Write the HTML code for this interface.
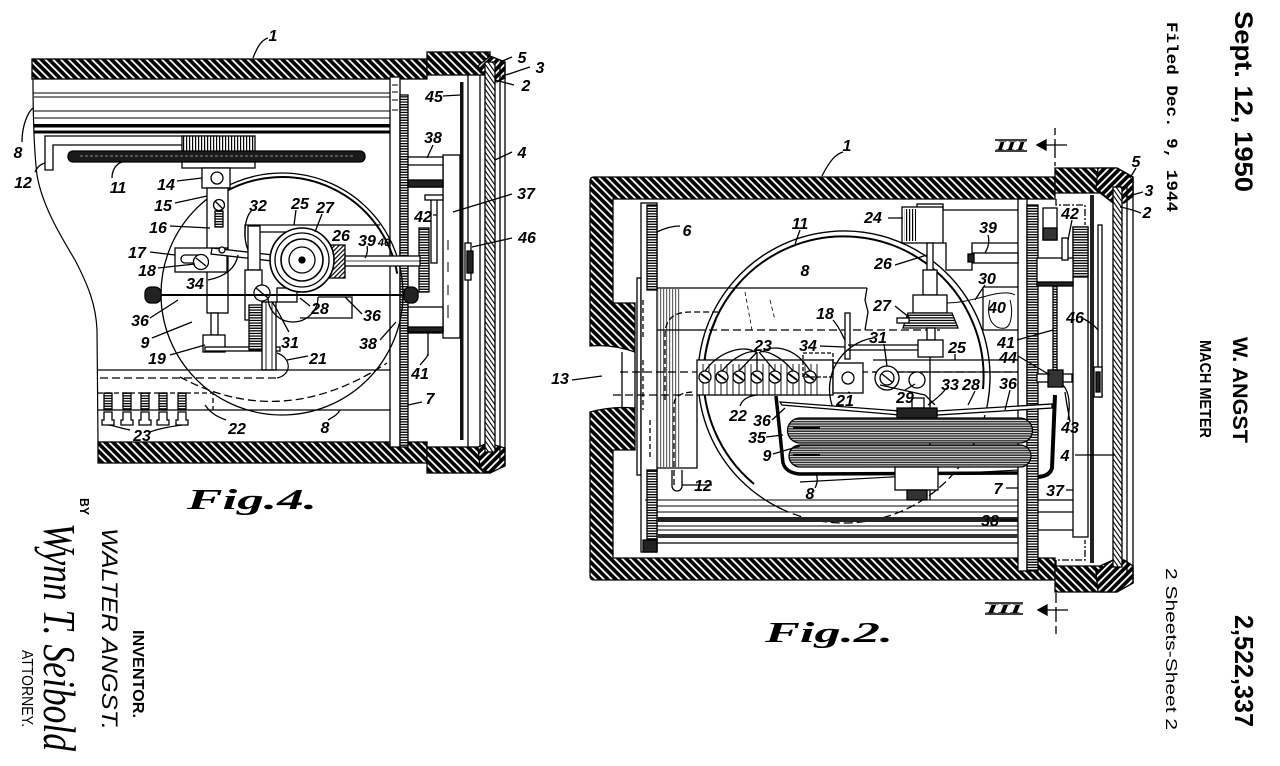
<!DOCTYPE html>
<html><head><meta charset="utf-8">
<style>
html,body{margin:0;padding:0;background:#fff;}
svg{display:block}
.n{font-family:"Liberation Sans",sans-serif;font-style:italic;font-weight:bold;font-size:16px;fill:#000;stroke:none;text-anchor:middle}
.s{font-family:"Liberation Sans",sans-serif;fill:#000;stroke:none}
</style></head><body>
<svg width="1280" height="766" viewBox="0 0 1280 766" xmlns="http://www.w3.org/2000/svg">
<defs>
<pattern id="h" width="5.5" height="5.5" patternUnits="userSpaceOnUse" patternTransform="rotate(-45)">
<rect width="5.5" height="5.5" fill="#000"/><rect width="1.8" height="5.5" fill="#fff"/></pattern>
<pattern id="h2" width="5.5" height="5.5" patternUnits="userSpaceOnUse" patternTransform="rotate(45)">
<rect width="5.5" height="5.5" fill="#000"/><rect width="1.8" height="5.5" fill="#fff"/></pattern>
<pattern id="g" width="3.6" height="3.6" patternUnits="userSpaceOnUse" patternTransform="rotate(-35)">
<rect width="3.6" height="3.6" fill="#fff"/><rect width="1.1" height="3.6" fill="#000"/></pattern>
<pattern id="hl" width="3.2" height="3.2" patternUnits="userSpaceOnUse" patternTransform="rotate(45)">
<rect width="3.2" height="3.2" fill="#fff"/><rect width="1.2" height="3.2" fill="#000"/></pattern>
<pattern id="t" width="4" height="2.6" patternUnits="userSpaceOnUse">
<rect width="4" height="2.6" fill="#fff"/><rect width="4" height="1.3" fill="#000"/></pattern>
<pattern id="tv" width="3" height="4" patternUnits="userSpaceOnUse">
<rect width="3" height="4" fill="#fff"/><rect width="1.2" height="4" fill="#000"/></pattern>
<pattern id="cap" width="6" height="2.4" patternUnits="userSpaceOnUse">
<rect width="6" height="2.4" fill="#333"/><rect width="6" height="0.8" fill="#fff"/></pattern>
</defs>

<g stroke="#000" fill="none" stroke-width="1.3">
<!-- ================= FIG 4 ================= -->
<!-- walls -->
<rect x="32" y="59" width="395" height="20" fill="url(#h)"/>
<rect x="427" y="52" width="63" height="23" fill="url(#h)"/>
<path d="M478,66 L490,56 L505,62 V78 L497,82 L486,77 Z" fill="url(#h2)"/>
<rect x="98" y="442" width="329" height="21" fill="url(#h)"/>
<rect x="427" y="447" width="63" height="26" fill="url(#h)"/>
<path d="M478,447 L488,443 L505,448 V466 L490,473 L480,468 Z" fill="url(#h2)"/>
<!-- glass and frame -->
<rect x="485" y="62" width="10" height="390" fill="url(#g)"/>
<path d="M500,62 V463 M505,62 V466 M468,75 V447 M480,75 V447"/>
<rect x="460" y="82" width="3.5" height="358" fill="#111" stroke="none"/>
<!-- plate 7 -->
<rect x="390" y="77" width="10" height="370" fill="#fff"/>
<rect x="400" y="95" width="8" height="352" fill="url(#t)"/>
<path d="M392,85 H398 M392,92 H398 M392,100 H398 M392,110 H398" stroke-width="1"/>
<!-- box 37 and rods 38 -->
<rect x="443" y="155" width="17" height="183" fill="#fff"/>
<path d="M448,240 V250 M448,262 V272 M448,285 V295 M448,305 V318" stroke-width="1"/>
<rect x="408" y="157" width="35" height="30" fill="#fff"/>
<path d="M408,165 H443"/>
<rect x="408" y="180" width="35" height="7" fill="#222"/>
<rect x="408" y="307" width="35" height="26" fill="#fff"/>
<rect x="408" y="327" width="35" height="5" fill="#222"/>
<rect x="431" y="198" width="6" height="65" fill="#fff"/>
<rect x="425" y="195" width="18" height="5" fill="#fff"/>
<rect x="419" y="228" width="10" height="64" fill="url(#t)"/>
<path d="M428,333 V356"/>
<rect x="465" y="243" width="6" height="37" fill="#fff"/>
<rect x="467" y="251" width="6" height="22" fill="#222"/>
<!-- break line -->
<path d="M33,79 C33,120 34,150 37,175 C42,205 60,235 75,260 C88,285 96,305 97,330 L98,442" stroke-width="1.2"/>
<!-- rod 8 -->
<path d="M33,93 H390 M34,97 H390 M34,111 H390 M34,118 H390" stroke-width="1"/>
<rect x="34" y="124" width="356" height="3.5" fill="#000" stroke="none"/>
<rect x="34" y="130.5" width="356" height="3" fill="#000" stroke="none"/>
<!-- bracket 12 -->
<path d="M45,136 H218 A4.5,4.5 0 0 1 218,145 H53 V170 H45 Z" fill="#fff"/>
<!-- hub and gear 11 -->
<rect x="182" y="136" width="73" height="16" fill="url(#tv)"/>
<rect x="68" y="151" width="297" height="11" rx="5" fill="#1a1a1a"/>
<path d="M80,156 H355" stroke="#888" stroke-width="1" stroke-dasharray="3 2"/>
<rect x="182" y="162" width="73" height="6" fill="#fff"/>
<!-- circle 11 fig4 -->
<circle cx="282" cy="294" r="121"/>
<path d="M223.5,192.7 A117,117 0 0 1 397.2,273.7" stroke-width="2"/>
<path d="M180,377 Q282,432 387,363" stroke-dasharray="8 4"/>
<!-- 14 / 15 / 16 -->
<rect x="202" y="168" width="28" height="20" fill="#fff"/>
<circle cx="217" cy="178" r="6" fill="#fff"/>
<rect x="207" y="188" width="21" height="125" fill="#fff"/>
<circle cx="219" cy="205" r="5.5" fill="#fff"/><path d="M215,201 L223,209"/>
<rect x="215" y="211" width="8" height="16" fill="url(#t)"/>
<!-- 17 / 18 -->
<rect x="175" y="248" width="52" height="24" fill="#fff"/>
<rect x="181" y="255" width="24" height="8" rx="4" fill="#fff"/>
<circle cx="201" cy="262" r="7.5" fill="#fff"/><path d="M196,258 L206,266"/>
<path d="M212,248 L282,256 L281,262 L211,254 Z" fill="#fff"/>
<circle cx="222" cy="250" r="3" fill="#fff"/>
<!-- 19 -->
<rect x="211" y="313" width="7" height="22" fill="#fff"/>
<rect x="203" y="335" width="22" height="17" fill="#fff"/>
<rect x="205" y="347" width="75" height="4" fill="#fff"/>
<!-- 25 bracket, 31 column -->
<path d="M245,237 V225 H380 M248,232 H300"/>
<rect x="248" y="226" width="12" height="44" fill="#fff"/>
<rect x="245" y="270" width="17" height="50" fill="#fff"/>
<rect x="249" y="305" width="13" height="45" fill="url(#t)"/>
<rect x="262" y="302" width="14" height="68" fill="#fff"/>
<path d="M266,302 V370 M272,302 V370" stroke-width="0.9"/>
<rect x="277" y="288" width="20" height="14" fill="#fff"/>
<circle cx="262" cy="293" r="8" fill="#fff"/><path d="M256,288 L268,298"/>
<!-- disk 27 and block 26 -->
<rect x="318" y="245" width="27" height="33" fill="url(#hl)"/>
<circle cx="302" cy="260" r="32" fill="#fff" stroke-width="1.6"/>
<circle cx="302" cy="260" r="27"/>
<circle cx="302" cy="260" r="21" stroke-width="1.6"/>
<circle cx="302" cy="260" r="13"/>
<circle cx="302" cy="260" r="3" fill="#000"/>
<rect x="345" y="256" width="75" height="10" fill="#fff"/>
<path d="M345,261 H420" stroke-width="0.8"/>
<!-- 28 and 36 -->
<path d="M268,297 A25,25 0 0 0 318,297"/>
<path d="M318,297 H352 V318 H300"/>
<path d="M160,295 H405" stroke-width="2"/>
<rect x="145" y="287" width="16" height="16" rx="6" fill="#222"/>
<rect x="404" y="287" width="14" height="16" rx="6" fill="#222"/>
<!-- lower rods / terminals -->
<path d="M98,370 H390 M98,410 H390"/>
<path d="M100,378 H277" stroke-dasharray="8 4"/>
<path d="M277,353 C292,358 292,375 277,378" stroke-width="1.2"/>
<path d="M98,393 H213 V410" stroke-dasharray="5 3"/>
<g fill="#fff">
<rect x="104" y="393" width="8" height="17" fill="url(#t)"/><rect x="123" y="393" width="8" height="17" fill="url(#t)"/>
<rect x="141" y="393" width="8" height="17" fill="url(#t)"/><rect x="159" y="393" width="8" height="17" fill="url(#t)"/>
<rect x="178" y="393" width="8" height="17" fill="url(#t)"/>
<path d="M104,412 H112 V420 H114 V425 H102 V420 H104 Z M123,412 H131 V420 H133 V425 H121 V420 H123 Z M141,412 H149 V420 H151 V425 H139 V420 H141 Z M159,412 H167 V420 H169 V425 H157 V420 H159 Z M178,412 H186 V420 H188 V425 H176 V420 H178 Z"/>
</g>

<!-- Fig 4 leaders -->
<path d="M253,58 C258,45 262,40 268,38"/>
<path d="M22,142 C22,125 28,112 33,108"/>
<path d="M35,172 C38,166 41,164 45,163"/>
<path d="M112,178 C112,170 116,164 122,162"/>
<path d="M177,181 L202,178 M175,203 L207,196 M170,226 L210,228 M150,252 L175,255 M158,268 L195,264"/>
<path d="M208,280 C228,276 236,266 238,255"/>
<path d="M150,318 L178,300 M152,338 L192,322 M170,355 L205,345"/>
<path d="M252,210 C244,218 243,238 248,250"/>
<path d="M296,210 L294,225 M322,214 L315,232 M367,246 C368,250 367,255 365,258"/>
<path d="M310,306 L300,298 M362,314 L345,297 M289,332 C282,320 278,310 272,302 M308,356 L287,360 M380,340 L396,322"/>
<path d="M420,365 C424,360 427,358 428,354 M422,402 L408,405 M328,420 C335,416 338,414 340,410"/>
<path d="M226,420 C215,416 210,412 205,405"/>
<path d="M130,430 C120,428 112,425 108,425 M150,432 C160,428 175,426 182,425"/>
<path d="M443,96 L460,95 M433,145 L427,158 M433,215 L437,215"/>
<path d="M512,57 L500,62 M530,67 C520,70 510,74 502,76 M514,85 L495,80 M512,152 L495,160 M512,194 L453,212 M512,238 L472,247"/>

<!-- ================= FIG 2 ================= -->
<path d="M594,177 H1055 V199 H613 V303 H635 V352 Q612,344 590,346 V181 Q590,177 594,177 Z" fill="url(#h)"/>
<path d="M590,412 Q612,406 635,408 V450 H613 V558 H1055 V580 H594 Q590,580 590,576 Z" fill="url(#h)"/>
<path d="M622,352 V408 M635,352 V408"/>
<path d="M1055,168 H1117 L1133,177 V196 L1124,203 H1113 L1100,193 H1055 Z" fill="url(#h)"/>
<path d="M1098,168 H1117 L1133,177 V196 L1124,203 H1113 L1096,188 Z" fill="url(#h2)"/>
<path d="M1055,592 H1117 L1133,583 V566 L1124,560 H1113 L1100,566 H1055 Z" fill="url(#h)"/>
<path d="M1098,592 H1117 L1133,583 V566 L1124,560 H1113 L1096,572 Z" fill="url(#h2)"/>
<rect x="1113" y="187" width="9" height="380" fill="url(#g)"/>
<path d="M1127,185 V575 M1133,177 V583"/>
<rect x="1090" y="195" width="4" height="368" fill="#222" stroke="none"/>
<path d="M1056,199 V205 H1085 V225 M1056,567 V560 H1085 V540" stroke-dasharray="7 2 2 2"/>
<!-- plate 7 -->
<rect x="1018" y="199" width="9" height="372" fill="#fff"/>
<rect x="1027" y="205" width="11" height="366" fill="url(#t)"/>
<!-- right compartment -->
<rect x="1073" y="227" width="15" height="310" fill="#fff"/>
<rect x="1073" y="227" width="15" height="50" fill="url(#t)"/>
<rect x="1043" y="208" width="14" height="32" fill="#fff"/>
<rect x="1043" y="228" width="14" height="12" fill="#333"/>
<rect x="1037" y="258" width="36" height="27" fill="#fff"/>
<rect x="1037" y="282" width="36" height="4" fill="#222"/>
<rect x="1062" y="238" width="6" height="22" fill="#fff"/>
<rect x="1053" y="286" width="4" height="84" fill="url(#t)"/>
<rect x="1037" y="374" width="35" height="8" fill="#fff"/>
<rect x="1048" y="370" width="15" height="17" fill="#333"/>
<path d="M1063,385 Q1072,395 1068,420"/>
<path d="M1055,395 L1052,468 Q1050,476 1038,477" stroke-width="4"/>
<rect x="1098" y="225" width="4" height="172" fill="#fff"/>
<rect x="1094" y="367" width="8" height="30" fill="#fff"/>
<rect x="1096" y="372" width="4" height="20" fill="#222"/>
<path d="M1038,500 H1073 M1038,512 H1073 M1038,530 H1073"/>
<!-- plate 6 -->
<rect x="637" y="278" width="4" height="197" fill="#fff"/>
<rect x="641" y="203" width="16" height="349" fill="#fff"/>
<rect x="647" y="205" width="10" height="85" fill="url(#t)"/>
<rect x="647" y="470" width="10" height="80" fill="url(#t)"/>
<rect x="643" y="540" width="14" height="12" fill="#222"/>
<path d="M643,300 V340 M643,360 V410 M650,420 V460" stroke-dasharray="5 3"/>
<!-- left bracket -->
<path d="M657,288 H867 M657,468 H697 V395"/>
<rect x="658" y="289" width="22" height="178" fill="url(#tv)" stroke="none" opacity="0.6"/>
<path d="M665,400 V335 Q665,312 690,312 H720 M674,485 V405 Q674,392 695,392" stroke-dasharray="6 3"/>
<path d="M672,470 V486 A5,5 0 0 0 682,486 V470"/>
<!-- plate 8 -->
<path d="M867,288 L865,300 L868,312 L865,330 M657,330 H697"/>
<path d="M697,330 H940 M620,372 H1018 M613,395 H697" stroke-dasharray="8 4"/>
<path d="M745,292 L752,330 M770,300 L775,320" stroke-width="0.8" stroke-dasharray="4 3"/>
<!-- circle 11 fig2 -->
<path d="M782.3,509.3 A146,146 0 1 1 987.8,402.4" stroke-width="1.4"/>
<path d="M987.8,402.4 A146,146 0 0 1 782.3,509.3" stroke-dasharray="9 4"/>
<path d="M754,484 A140,140 0 1 1 983,389" stroke-width="2"/>
<path d="M716,320 A140,140 0 0 0 716,434" stroke-dasharray="10 3 2 3"/>
<!-- terminal block 22/23 -->
<rect x="697" y="360" width="136" height="35" fill="#fff"/>
<path d="M703,364 V395 M709,364 V395 M715,364 V395 M721,364 V395 M727,364 V395 M733,364 V395 M739,364 V395 M745,364 V395 M751,364 V395 M757,364 V395 M763,364 V395 M769,364 V395 M775,364 V395 M781,364 V395 M787,364 V395 M793,364 V395 M799,364 V395 M805,364 V395 M811,364 V395 M817,364 V395" stroke-width="0.9"/>
<g fill="#fff">
<circle cx="705" cy="377" r="6"/><circle cx="722" cy="377" r="6"/><circle cx="739" cy="377" r="6"/>
<circle cx="757" cy="377" r="6"/><circle cx="775" cy="377" r="6"/><circle cx="793" cy="377" r="6"/><circle cx="810" cy="377" r="6"/>
</g>
<path d="M701,374 L709,380 M718,374 L726,380 M735,374 L743,380 M753,374 L761,380 M771,374 L779,380 M789,374 L797,380 M806,374 L814,380" stroke-width="2"/>
<path d="M705,371 C720,350 745,345 755,352 M722,371 C735,355 750,350 757,352 M739,371 L757,352 M757,371 V352 M775,371 L759,352 M793,371 C780,355 765,350 760,352 M810,371 C795,345 770,345 762,352"/>
<!-- 21, 34, 18 -->
<rect x="833" y="363" width="30" height="30" fill="#fff"/>
<circle cx="848" cy="378" r="6"/>
<rect x="803" y="353" width="30" height="24" stroke-dasharray="4 2"/>
<rect x="845" y="313" width="5" height="46" fill="#fff"/>
<path d="M848,345 H922 M848,350 H922"/>
<path d="M833,408 A52,52 0 0 1 873,338"/>
<!-- bar 25 and levers -->
<path d="M873,360 H1018 M873,372 H1018"/>
<circle cx="887" cy="378" r="12" fill="#fff"/>
<circle cx="887" cy="378" r="7"/><path d="M882,374 L892,382"/>
<circle cx="917" cy="380" r="8" fill="#fff"/>
<path d="M880,385 L925,395 L935,405"/>
<rect x="912" y="398" width="12" height="10" fill="#fff"/>
<!-- vertical shaft assembly 24/26/27 -->
<path d="M943,210 H1018 M943,243 H946 V270 H972 V243 H1018 M983,287 H1018 M983,287 V330 H1018"/>
<rect x="917" y="204" width="26" height="6" fill="#fff"/>
<rect x="902" y="207" width="41" height="36" fill="#fff"/>
<rect x="904" y="209" width="12" height="32" fill="url(#tv)" stroke="none"/>
<rect x="973" y="253" width="45" height="10" fill="#fff"/>
<rect x="968" y="254" width="6" height="8" fill="#222"/>
<rect x="927" y="243" width="6" height="27" fill="#fff"/>
<rect x="923" y="270" width="14" height="25" fill="#fff"/>
<rect x="913" y="295" width="34" height="18" fill="#fff"/>
<path d="M908,313 H952 L958,328 H903 Z" fill="url(#t)"/>
<rect x="897" y="318" width="12" height="5" fill="#fff"/>
<rect x="927" y="328" width="8" height="12" fill="#fff"/>
<rect x="918" y="340" width="25" height="17" fill="#fff"/>
<path d="M930,357 V500"/>
<path d="M947,303 C960,303 970,300 983,297 C1000,292 1010,292 1015,295 M990,300 C985,320 995,330 1005,328 C1012,326 1013,310 1010,300" stroke-width="1"/>
<!-- pointers 36 and hub -->
<path d="M780,402 L900,411 L900,415 L782,405 Z" fill="#fff"/>
<path d="M937,411 L1052,404 L1052,408 L937,415 Z" fill="#fff"/>
<rect x="897" y="408" width="40" height="10" fill="#222"/>
<!-- capsules 9 -->
<path d="M800,418 H1020 A12,12 0 0 1 1020,443 H800 A12,12 0 0 1 800,418 Z" fill="url(#cap)"/>
<path d="M800,445 H1020 A11,11 0 0 1 1020,467 H800 A11,11 0 0 1 800,445 Z" fill="url(#cap)"/>
<path d="M793,428 H820 M793,455 H820" stroke-width="2"/>
<!-- tube 35 -->
<path d="M776,396 L783,463 Q786,473 800,474 L1018,473" stroke-width="3.5"/>
<path d="M800,482 L1018,470" stroke-width="1.2"/>
<rect x="895" y="467" width="43" height="23" fill="#fff"/>
<rect x="907" y="490" width="20" height="10" fill="#333"/>
<!-- rod 38 -->
<path d="M645,500 H1018 M657,506 H1018 M657,512 H1018" stroke-width="1"/>
<rect x="657" y="517" width="361" height="5" fill="#222" stroke="none"/>
<path d="M657,526 H1018 M657,530 H1018" stroke-width="1"/>
<rect x="657" y="534" width="361" height="4" fill="#333" stroke="none"/>
<path d="M657,543 H1018"/>
<!-- III markers -->
<path d="M995,140 H1027 M995,151 H1027 M985,603 H1023 M985,614 H1023" stroke-width="1.6"/>
<path d="M1037,145 H1067 M1055,128 V135 M1055,139 V158 M1055,162 V166"/>
<path d="M1037,145 L1046,140 L1046,150 Z" fill="#000"/>
<path d="M1038,610 H1068 M1056,593 V603 M1056,607 V622 M1056,626 V634"/>
<path d="M1038,610 L1047,605 L1047,615 Z" fill="#000"/>

<!-- Fig 2 leaders -->
<path d="M822,176 C830,160 836,154 843,152"/>
<path d="M657,232 C665,228 672,226 680,226"/>
<path d="M572,380 L602,376"/>
<path d="M800,230 C798,236 796,240 795,245 M888,218 L903,218 M988,235 C990,242 988,248 985,253 M895,265 L927,255"/>
<path d="M985,285 C980,292 977,297 975,300 M895,306 L910,318 M833,320 C840,328 842,335 845,340 M820,346 L845,347 M884,344 L887,366 M955,354 L955,360"/>
<path d="M1017,340 L1053,330 M1018,356 L1050,375 M945,390 C938,398 932,402 928,405 M975,391 L968,405 M1010,390 L1005,410 M905,390 L915,384 M848,392 L850,393"/>
<path d="M740,406 C742,400 748,396 757,395 M772,420 L785,408 M766,437 L783,435 M773,454 L800,446 M712,485 L682,485 M815,488 C818,482 818,478 816,474"/>
<path d="M1006,488 L1018,488 M1066,490 L1073,490 M1000,520 L1018,520 M1070,422 C1068,410 1066,400 1065,392 M1075,455 L1115,455 M1082,318 C1090,322 1095,326 1098,330 M1072,220 L1068,240"/>
<path d="M1136,168 L1130,178 M1143,192 C1135,194 1130,196 1126,197 M1141,213 C1133,210 1126,208 1120,207"/>
</g>

<!-- Fig 4 numbers -->
<g>
<text class="n" x="273" y="41">1</text>
<text class="n" x="18" y="158">8</text>
<text class="n" x="23" y="188">12</text>
<text class="n" x="118" y="193">11</text>
<text class="n" x="166" y="190">14</text>
<text class="n" x="163" y="211">15</text>
<text class="n" x="158" y="233">16</text>
<text class="n" x="137" y="258">17</text>
<text class="n" x="147" y="276">18</text>
<text class="n" x="195" y="289">34</text>
<text class="n" x="140" y="326">36</text>
<text class="n" x="145" y="348">9</text>
<text class="n" x="157" y="364">19</text>
<text class="n" x="258" y="211">32</text>
<text class="n" x="300" y="209">25</text>
<text class="n" x="325" y="213">27</text>
<text class="n" x="341" y="241">26</text>
<text class="n" x="367" y="246">39</text>
<text class="n" x="384" y="246" style="font-size:11px">40</text>
<text class="n" x="320" y="314">28</text>
<text class="n" x="372" y="321">36</text>
<text class="n" x="290" y="348">31</text>
<text class="n" x="318" y="364">21</text>
<text class="n" x="368" y="349">38</text>
<text class="n" x="420" y="379">41</text>
<text class="n" x="430" y="404">7</text>
<text class="n" x="325" y="433">8</text>
<text class="n" x="237" y="434">22</text>
<text class="n" x="142" y="441">23</text>
<text class="n" x="434" y="102">45</text>
<text class="n" x="433" y="143">38</text>
<text class="n" x="423" y="222">42</text>
<text class="n" x="522" y="63">5</text>
<text class="n" x="540" y="73">3</text>
<text class="n" x="526" y="91">2</text>
<text class="n" x="522" y="158">4</text>
<text class="n" x="526" y="199">37</text>
<text class="n" x="527" y="243">46</text>
</g>
<!-- Fig 2 numbers -->
<g>
<text class="n" x="847" y="151">1</text>
<text class="n" x="687" y="236">6</text>
<text class="n" x="560" y="384">13</text>
<text class="n" x="800" y="229">11</text>
<text class="n" x="805" y="276">8</text>
<text class="n" x="873" y="223">24</text>
<text class="n" x="988" y="233">39</text>
<text class="n" x="883" y="269">26</text>
<text class="n" x="987" y="284">30</text>
<text class="n" x="882" y="311">27</text>
<text class="n" x="997" y="313">40</text>
<text class="n" x="825" y="319">18</text>
<text class="n" x="808" y="351">34</text>
<text class="n" x="878" y="343">31</text>
<text class="n" x="957" y="353">25</text>
<text class="n" x="763" y="351">23</text>
<text class="n" x="1006" y="348">41</text>
<text class="n" x="1008" y="363">44</text>
<text class="n" x="950" y="390">33</text>
<text class="n" x="971" y="390">28</text>
<text class="n" x="1008" y="389">36</text>
<text class="n" x="905" y="403">29</text>
<text class="n" x="845" y="406">21</text>
<text class="n" x="738" y="421">22</text>
<text class="n" x="762" y="426">36</text>
<text class="n" x="757" y="443">35</text>
<text class="n" x="767" y="461">9</text>
<text class="n" x="703" y="491">12</text>
<text class="n" x="810" y="499">8</text>
<text class="n" x="998" y="494">7</text>
<text class="n" x="990" y="526">38</text>
<text class="n" x="1055" y="496">37</text>
<text class="n" x="1070" y="433">43</text>
<text class="n" x="1065" y="461">4</text>
<text class="n" x="1075" y="323">46</text>
<text class="n" x="1070" y="219">42</text>
<text class="n" x="1136" y="167">5</text>
<text class="n" x="1149" y="196">3</text>
<text class="n" x="1147" y="218">2</text>
</g>
<!-- III labels -->
<text x="996" y="150" style="font-family:'Liberation Serif',serif;font-weight:bold;font-style:italic;font-size:13px" textLength="30" lengthAdjust="spacingAndGlyphs">III</text>
<text x="986" y="613" style="font-family:'Liberation Serif',serif;font-weight:bold;font-style:italic;font-size:13px" textLength="36" lengthAdjust="spacingAndGlyphs">III</text>

<!-- Figure captions -->
<text x="187" y="509" style="font-family:'Liberation Serif',serif;font-weight:bold;font-style:italic;font-size:28px" textLength="130" lengthAdjust="spacingAndGlyphs">Fig.4.</text>
<text x="765" y="642" style="font-family:'Liberation Serif',serif;font-weight:bold;font-style:italic;font-size:28px" textLength="128" lengthAdjust="spacingAndGlyphs">Fig.2.</text>

<!-- Right margin text (rotated) -->
<text class="s" transform="translate(1235,11) rotate(90)" style="font-weight:bold;font-size:25px" textLength="181" lengthAdjust="spacingAndGlyphs">Sept. 12, 1950</text>
<text transform="translate(1167,22) rotate(90)" style="font-family:'Liberation Mono',monospace;font-size:16px;font-weight:bold" textLength="190" lengthAdjust="spacingAndGlyphs">Filed Dec. 9, 1944</text>
<text class="s" transform="translate(1233,337) rotate(90)" style="font-weight:bold;font-size:21px" textLength="106" lengthAdjust="spacingAndGlyphs">W. ANGST</text>
<text class="s" transform="translate(1200,340) rotate(90)" style="font-weight:bold;font-size:16px" textLength="98" lengthAdjust="spacingAndGlyphs">MACH METER</text>
<text class="s" transform="translate(1235,615) rotate(90)" style="font-weight:bold;font-size:26px" textLength="112" lengthAdjust="spacingAndGlyphs">2,522,337</text>
<text class="s" transform="translate(1166,568) rotate(90)" style="font-size:16px" textLength="162" lengthAdjust="spacingAndGlyphs">2 Sheets-Sheet 2</text>

<!-- Left inventor block (rotated) -->
<text class="s" transform="translate(133,630) rotate(90)" style="font-size:16px;font-weight:bold" textLength="88" lengthAdjust="spacingAndGlyphs">INVENTOR.</text>
<text class="s" transform="translate(102,528) rotate(90)" style="font-size:22px;font-style:italic" textLength="202" lengthAdjust="spacingAndGlyphs">WALTER ANGST.</text>
<text class="s" transform="translate(80,498) rotate(90)" style="font-size:13px;font-weight:bold" textLength="17" lengthAdjust="spacingAndGlyphs">BY</text>
<text transform="translate(44,523) rotate(90)" style="font-family:'Liberation Serif',serif;font-style:italic;font-size:46px" textLength="228" lengthAdjust="spacingAndGlyphs">Wynn T. Seibold</text>
<text class="s" transform="translate(22,650) rotate(90)" style="font-size:16px" textLength="77" lengthAdjust="spacingAndGlyphs">ATTORNEY.</text>
</svg>
</body></html>
